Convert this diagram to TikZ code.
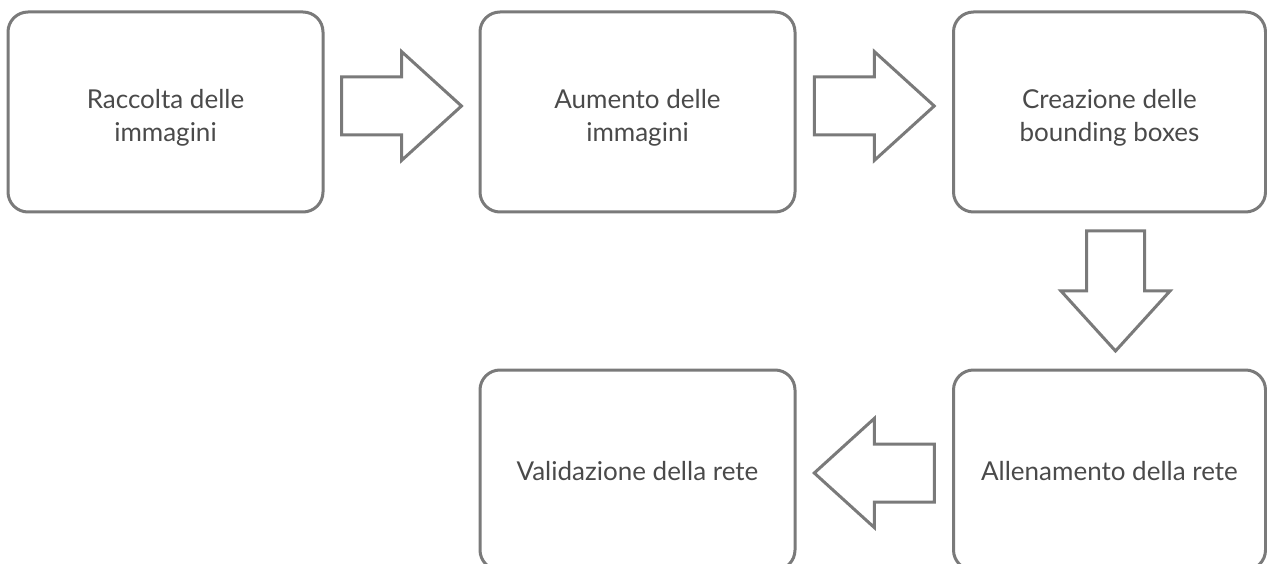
\documentclass[tikz,border=0pt]{standalone}
\usepackage{fontspec}
\setmainfont{Lato}
\usetikzlibrary{calc}
\definecolor{linegray}{HTML}{7A7A7A}
\definecolor{textgray}{HTML}{4A4A4A}
\tikzset{
  stepbox/.style={draw=linegray, line width=3pt, rounded corners=20pt,
    minimum width=315pt, minimum height=200pt, inner sep=0pt, align=center,
    text=textgray, font=\fontsize{26}{33.5}\selectfont},
  twoline/.style={text height=60pt, text depth=0pt},
  oneline/.style={text height=20pt, text depth=0pt},
  blockarrow/.style={draw=linegray, line width=3pt, line join=miter, fill=white},
  rarrow/.pic={\path[blockarrow] (-60,-29) -- (0,-29) -- (0,-54.5) -- (60,0)
      -- (0,54.5) -- (0,29) -- (-60,29) -- cycle;}
}
\begin{document}
\begin{tikzpicture}[x=1pt,y=-1pt]
  \clip (0,0) rectangle (1267,564);
  \node[stepbox,twoline] (b1) at (165.5,112) {Raccolta delle\\immagini};
  \node[stepbox,twoline] (b2) at (637.5,112) {Aumento delle\\immagini};
  \node[stepbox,twoline,minimum width=312pt] (b3) at (1109.5,112) {Creazione delle\\bounding boxes};
  \node[stepbox,oneline,minimum width=312pt] (b5) at (1109.5,470) {Allenamento della rete};
  \node[stepbox,oneline] (b4) at (637.5,470) {Validazione della rete};
  \coordinate (m1) at ($(b1.east)!0.5!(b2.west)+(0,-6)$);
  \coordinate (m2) at ($(b2.east)!0.5!(b3.west)+(0,-6)$);
  \coordinate (m3) at ($(b3.south)!0.5!(b5.north)+(6,0)$);
  \coordinate (m4) at ($(b5.west)!0.5!(b4.east)+(0,3)$);
  \pic at (m1) {rarrow};
  \pic at (m2) {rarrow};
  \pic[rotate=-90] at (m3) {rarrow};
  \pic[rotate=180] at (m4) {rarrow};
\end{tikzpicture}
\end{document}
